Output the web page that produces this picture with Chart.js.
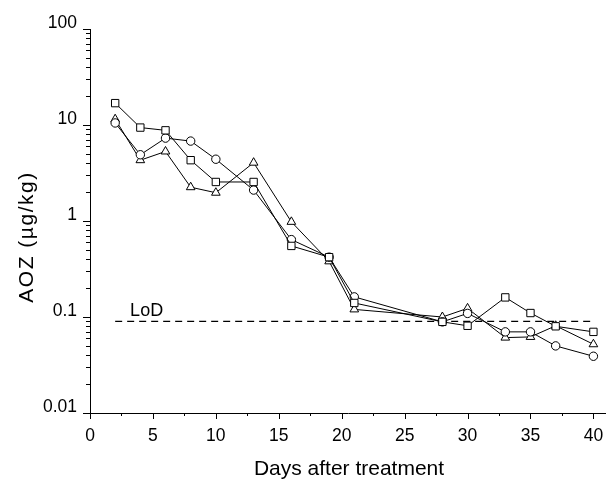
<!DOCTYPE html>
<html>
<head>
<meta charset="utf-8">
<script src="https://cdn.jsdelivr.net/npm/chart.js@4/dist/chart.umd.min.js"></script>
<style>
  body { margin: 0; background: #fff; }
  #wrap { width: 606px; height: 480px; }
</style>
</head>
<body>
<div id="wrap"><canvas id="aozChart"></canvas></div>
<script>
// Sampling days and AOZ residues (µg/kg) per replicate
const days = [2, 4, 6, 8, 10, 13, 16, 19, 21, 28, 30, 33, 35, 37, 40];
const aozSquare = [16.9, 9.4, 8.8, 4.3, 2.55, 2.55, 0.55, 0.42, 0.14, 0.089, 0.081, 0.16, 0.11, 0.08, 0.07];
const aozCircle = [10.5, 4.9, 7.3, 6.8, 4.4, 2.1, 0.64, 0.42, 0.162, 0.089, 0.109, 0.07, 0.07, 0.05, 0.039];
const aozTriangle = [11.5, 4.3, 5.3, 2.25, 1.97, 4.05, 0.98, 0.38, 0.12, 0.1, 0.123, 0.061, 0.062, 0.081, 0.052];

// Limit of detection line
const lodValue = 0.09;
const lodDays = [2, 40];

// Axis labels
const yTickLabels = ['0.01', '0.1', '1', '10', '100'];
const xTickLabels = [0, 5, 10, 15, 20, 25, 30, 35, 40];

const FONT = 'Liberation Sans, Arial, sans-serif';

function toPoints(xs, ys) {
    return xs.map((x, i) => ({ x: x, y: ys[i] }));
}

function series(data, style, radius) {
    return {
        data: toPoints(days, data),
        borderColor: '#000',
        borderWidth: 1,
        pointStyle: style,
        pointRadius: radius,
        pointHoverRadius: radius,
        pointBackgroundColor: '#fff',
        pointBorderColor: '#000',
        pointBorderWidth: 1,
        tension: 0
    };
}

// minor/major ticks, x labels, titles and LoD label
const decorations = {
    id: 'decorations',
    afterDraw(chart) {
        const ctx = chart.ctx;
        const xs = chart.scales.x, ys = chart.scales.y;
        const left = chart.chartArea.left, bottom = chart.chartArea.bottom;
        ctx.save();
        ctx.strokeStyle = '#000';
        ctx.lineWidth = 1;
        ctx.beginPath();
        for (let p = -2; p <= 2; p++) {
            for (let m = 1; m <= 9; m++) {
                const v = m * Math.pow(10, p);
                if (v > 100.0001) continue;
                const py = Math.round(ys.getPixelForValue(v)) + 0.5;
                const len = m === 1 ? 7 : 4;
                ctx.moveTo(left - len, py);
                ctx.lineTo(left, py);
            }
        }
        for (let v = 0; v <= 40; v += 2.5) {
            const px = Math.round(xs.getPixelForValue(v)) + 0.5;
            const len = v % 5 === 0 ? 6 : 3;
            ctx.moveTo(px, bottom);
            ctx.lineTo(px, bottom + len);
        }
        ctx.stroke();

        ctx.fillStyle = '#000';
        ctx.textAlign = 'center';
        ctx.textBaseline = 'alphabetic';
        ctx.font = '17.5px ' + FONT;
        xTickLabels.forEach((v) => {
            ctx.fillText(String(v), xs.getPixelForValue(v), bottom + 28);
        });

        ctx.font = '18px ' + FONT;
        ctx.fillText('LoD', xs.getPixelForValue(4.5), ys.getPixelForValue(lodValue) - 5);

        ctx.font = '21px ' + FONT;
        ctx.fillText('Days after treatment', 349, 475);

        ctx.translate(33, 237);
        ctx.rotate(-Math.PI / 2);
        ctx.letterSpacing = '1.5px';
        ctx.fillText('AOZ (µg/kg)', 0, 0);
        ctx.restore();
    }
};

new Chart(document.getElementById('aozChart'), {
    type: 'line',
    data: {
        datasets: [
            series(aozSquare, 'rect', 5.2),
            series(aozCircle, 'circle', 4.2),
            series(aozTriangle, 'triangle', 5),
            {
                data: toPoints(lodDays, [lodValue, lodValue]),
                borderColor: '#000',
                borderWidth: 1.3,
                borderDash: [7, 5],
                pointRadius: 0,
                pointHoverRadius: 0
            }
        ]
    },
    options: {
        responsive: true,
        maintainAspectRatio: false,
        animation: false,
        layout: { autoPadding: false, padding: { top: 29, right: 0, bottom: 0, left: 0 } },
        plugins: {
            legend: { display: false },
            tooltip: { enabled: false }
        },
        scales: {
            x: {
                type: 'linear',
                min: 0,
                max: 41,
                afterFit: (scale) => { scale.height = 67; },
                grid: { drawOnChartArea: false, drawTicks: false },
                border: { display: true, color: '#000', width: 1 },
                ticks: { display: false, stepSize: 5 }
            },
            y: {
                type: 'logarithmic',
                min: 0.01,
                max: 100,
                afterFit: (scale) => { scale.width = 90; },
                grid: { drawOnChartArea: false, drawTicks: false },
                border: { display: true, color: '#000', width: 1 },
                ticks: {
                    autoSkip: false,
                    padding: 13,
                    labelOffset: -6,
                    color: '#000',
                    font: { family: FONT, size: 17.5 },
                    callback: (v) => {
                        const l = Math.log10(v);
                        const r = Math.round(l);
                        return Math.abs(l - r) < 1e-6 ? yTickLabels[r + 2] : '';
                    }
                }
            }
        }
    },
    plugins: [decorations]
});
</script>
</body>
</html>
